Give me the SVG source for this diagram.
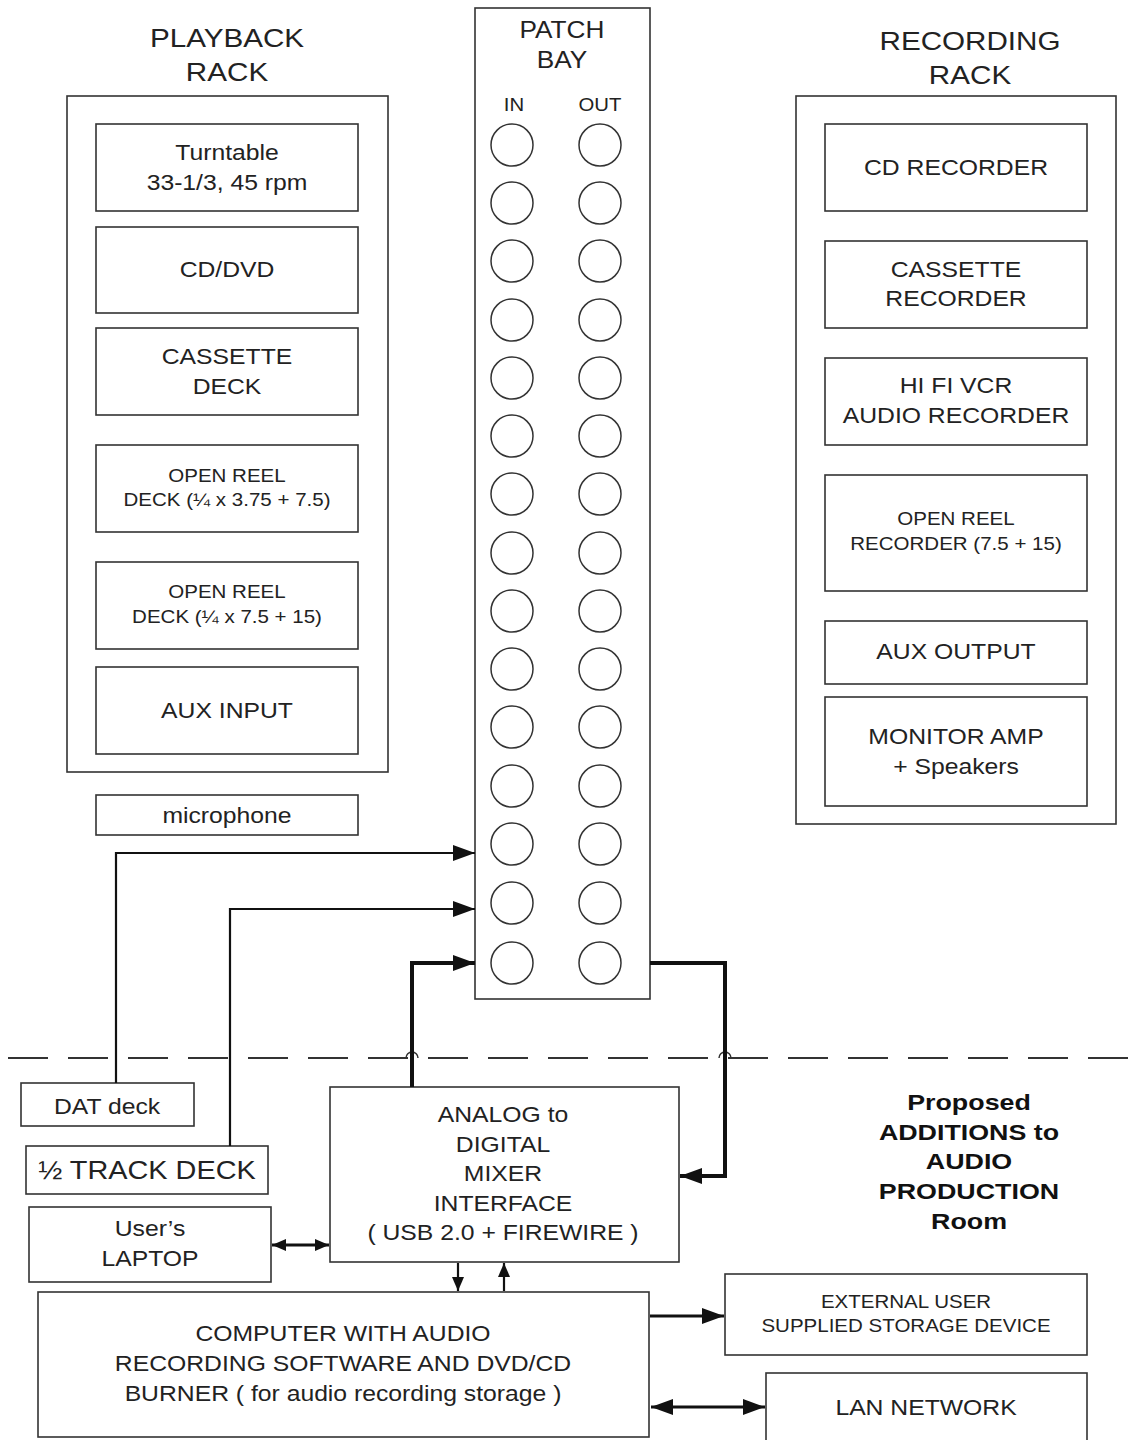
<svg xmlns="http://www.w3.org/2000/svg" width="1146" height="1440" viewBox="0 0 1146 1440">
<defs>
<style>
text{font-family:"Liberation Sans",Arial,sans-serif;fill:#222;text-anchor:middle}
.t{font-size:26px}
.b{font-size:21.5px}
.s{font-size:18px}
.bold{font-size:22px;font-weight:bold;fill:#111}
.box{fill:#fff;stroke:#333;stroke-width:1.6}
.jack{fill:#fff;stroke:#333;stroke-width:1.5}
.w1{fill:none;stroke:#111;stroke-width:2.2}
.w2{fill:none;stroke:#111;stroke-width:4}
.w3{fill:none;stroke:#111;stroke-width:3.2}
.dash{fill:none;stroke:#333;stroke-width:2;stroke-dasharray:40 20}
.hop{fill:none;stroke:#333;stroke-width:1.5}
</style>
<marker id="ah" viewBox="0 0 10 10" refX="10" refY="5" markerWidth="22" markerHeight="16" markerUnits="userSpaceOnUse" orient="auto-start-reverse" preserveAspectRatio="none"><path d="M0,0 L10,5 L0,10 Z" fill="#111"/></marker>
<marker id="ahs" viewBox="0 0 10 10" refX="10" refY="5" markerWidth="14" markerHeight="12" markerUnits="userSpaceOnUse" orient="auto-start-reverse" preserveAspectRatio="none"><path d="M0,0 L10,5 L0,10 Z" fill="#111"/></marker>
</defs>
<rect width="1146" height="1440" fill="#fff"/>

<line class="dash" x1="8" y1="1058" x2="1146" y2="1058"/>
<path class="hop" d="M406,1058 A6,6 0 0 1 418,1058"/>
<path class="hop" d="M719,1058 A6,6 0 0 1 731,1058"/>

<g id="playback-rack">
<g transform="translate(227 0) scale(1.14 1)"><text class="t" x="0" y="47">PLAYBACK</text><text class="t" x="0" y="81">RACK</text></g>
<rect class="box" x="67" y="96" width="321" height="676"/>
</g>
<g id="turntable"><rect class="box" x="96" y="124" width="262" height="87"/><g transform="translate(227 0) scale(1.15 1)"><text class="b" x="0" y="160">Turntable</text><text class="b" x="0" y="190">33-1/3, 45 rpm</text></g></g>
<g id="cd-dvd"><rect class="box" x="96" y="227" width="262" height="86"/><g transform="translate(227 0) scale(1.15 1)"><text class="b" x="0" y="277">CD/DVD</text></g></g>
<g id="cassette-deck"><rect class="box" x="96" y="328" width="262" height="87"/><g transform="translate(227 0) scale(1.15 1)"><text class="b" x="0" y="364">CASSETTE</text><text class="b" x="0" y="394">DECK</text></g></g>
<g id="open-reel-1"><rect class="box" x="96" y="445" width="262" height="87"/><g transform="translate(227 0) scale(1.14 1)"><text class="s" x="0" y="482">OPEN REEL</text><text class="s" x="0" y="506">DECK  (¼ x 3.75 + 7.5)</text></g></g>
<g id="open-reel-2"><rect class="box" x="96" y="562" width="262" height="87"/><g transform="translate(227 0) scale(1.14 1)"><text class="s" x="0" y="598">OPEN REEL</text><text class="s" x="0" y="623">DECK (¼ x 7.5 + 15)</text></g></g>
<g id="aux-input"><rect class="box" x="96" y="667" width="262" height="87"/><g transform="translate(227 0) scale(1.15 1)"><text class="b" x="0" y="718">AUX INPUT</text></g></g>
<g id="microphone"><rect class="box" x="96" y="795" width="262" height="40"/><g transform="translate(227 0) scale(1.15 1)"><text class="b" x="0" y="823">microphone</text></g></g>

<g id="patch-bay">
<rect class="box" x="475" y="8" width="175" height="991"/>
<g transform="translate(562 0) scale(1.14 1)"><text x="0" y="38" style="font-size:23px">PATCH</text><text x="0" y="68" style="font-size:23px">BAY</text></g>
<g transform="translate(514 0) scale(1.13 1)"><text class="s" x="0" y="111">IN</text></g>
<g transform="translate(600 0) scale(1.13 1)"><text class="s" x="0" y="111">OUT</text></g>
<g class="jack">
<circle cx="512" cy="145" r="21"/><circle cx="600" cy="145" r="21"/>
<circle cx="512" cy="203" r="21"/><circle cx="600" cy="203" r="21"/>
<circle cx="512" cy="261" r="21"/><circle cx="600" cy="261" r="21"/>
<circle cx="512" cy="320" r="21"/><circle cx="600" cy="320" r="21"/>
<circle cx="512" cy="378" r="21"/><circle cx="600" cy="378" r="21"/>
<circle cx="512" cy="436" r="21"/><circle cx="600" cy="436" r="21"/>
<circle cx="512" cy="494" r="21"/><circle cx="600" cy="494" r="21"/>
<circle cx="512" cy="553" r="21"/><circle cx="600" cy="553" r="21"/>
<circle cx="512" cy="611" r="21"/><circle cx="600" cy="611" r="21"/>
<circle cx="512" cy="669" r="21"/><circle cx="600" cy="669" r="21"/>
<circle cx="512" cy="727" r="21"/><circle cx="600" cy="727" r="21"/>
<circle cx="512" cy="786" r="21"/><circle cx="600" cy="786" r="21"/>
<circle cx="512" cy="844" r="21"/><circle cx="600" cy="844" r="21"/>
<circle cx="512" cy="903" r="21"/><circle cx="600" cy="903" r="21"/>
<circle cx="512" cy="963" r="21"/><circle cx="600" cy="963" r="21"/>
</g>
</g>

<g id="recording-rack">
<g transform="translate(970 0) scale(1.14 1)"><text class="t" x="0" y="50">RECORDING</text><text class="t" x="0" y="84">RACK</text></g>
<rect class="box" x="796" y="96" width="320" height="728"/>
</g>
<g id="cd-recorder"><rect class="box" x="825" y="124" width="262" height="87"/><g transform="translate(956 0) scale(1.15 1)"><text class="b" x="0" y="175">CD RECORDER</text></g></g>
<g id="cassette-recorder"><rect class="box" x="825" y="241" width="262" height="87"/><g transform="translate(956 0) scale(1.15 1)"><text class="b" x="0" y="277">CASSETTE</text><text class="b" x="0" y="306">RECORDER</text></g></g>
<g id="hifi-vcr"><rect class="box" x="825" y="358" width="262" height="87"/><g transform="translate(956 0) scale(1.15 1)"><text class="b" x="0" y="393">HI FI VCR</text><text class="b" x="0" y="423">AUDIO RECORDER</text></g></g>
<g id="open-reel-recorder"><rect class="box" x="825" y="475" width="262" height="116"/><g transform="translate(956 0) scale(1.14 1)"><text class="s" x="0" y="525">OPEN REEL</text><text class="s" x="0" y="550">RECORDER (7.5 + 15)</text></g></g>
<g id="aux-output"><rect class="box" x="825" y="621" width="262" height="63"/><g transform="translate(956 0) scale(1.15 1)"><text class="b" x="0" y="659">AUX OUTPUT</text></g></g>
<g id="monitor-amp"><rect class="box" x="825" y="697" width="262" height="109"/><g transform="translate(956 0) scale(1.15 1)"><text class="b" x="0" y="744">MONITOR AMP</text><text class="b" x="0" y="774">+ Speakers</text></g></g>

<g id="dat-deck"><rect class="box" x="21" y="1083" width="173" height="43"/><g transform="translate(107 0) scale(1.15 1)"><text class="b" x="0" y="1114">DAT deck</text></g></g>
<g id="half-track-deck"><rect class="box" x="26" y="1146" width="242" height="48"/><g transform="translate(147 0) scale(1.11 1)"><text x="0" y="1179" style="font-size:26px">½ TRACK DECK</text></g></g>
<g id="laptop"><rect class="box" x="29" y="1207" width="242" height="75"/><g transform="translate(150 0) scale(1.15 1)"><text class="b" x="0" y="1236">User’s</text><text class="b" x="0" y="1266">LAPTOP</text></g></g>
<g id="mixer"><rect class="box" x="330" y="1087" width="349" height="175"/>
<g transform="translate(503 0) scale(1.15 1)"><text class="b" x="0" y="1122">ANALOG to</text><text class="b" x="0" y="1152">DIGITAL</text><text class="b" x="0" y="1181">MIXER</text><text class="b" x="0" y="1211">INTERFACE</text><text class="b" x="0" y="1240">( USB 2.0 + FIREWIRE )</text></g></g>
<g id="computer"><rect class="box" x="38" y="1292" width="611" height="145"/>
<g transform="translate(343 0) scale(1.15 1)"><text class="b" x="0" y="1341">COMPUTER WITH AUDIO</text><text class="b" x="0" y="1371">RECORDING SOFTWARE AND DVD/CD</text><text class="b" x="0" y="1401">BURNER ( for audio recording storage )</text></g></g>
<g id="external-storage"><rect class="box" x="725" y="1274" width="362" height="81"/><g transform="translate(906 0) scale(1.14 1)"><text class="s" x="0" y="1308">EXTERNAL USER</text><text class="s" x="0" y="1332">SUPPLIED STORAGE DEVICE</text></g></g>
<g id="lan"><rect class="box" x="766" y="1373" width="321" height="80"/><g transform="translate(926 0) scale(1.15 1)"><text class="b" x="0" y="1415">LAN NETWORK</text></g></g>

<g id="note" transform="translate(969 0) scale(1.22 1)">
<text class="bold" x="0" y="1110">Proposed</text>
<text class="bold" x="0" y="1140">ADDITIONS to</text>
<text class="bold" x="0" y="1169">AUDIO</text>
<text class="bold" x="0" y="1199">PRODUCTION</text>
<text class="bold" x="0" y="1229">Room</text>
</g>

<g id="connectors">
<path class="w1" d="M116,1083 V853 H475" marker-end="url(#ah)"/>
<path class="w1" d="M230,1146 V909 H475" marker-end="url(#ah)"/>
<path class="w2" d="M412,1087 V963 H475" marker-end="url(#ah)"/>
<path class="w2" d="M650,963 H725 V1176 H680" marker-end="url(#ah)"/>
<path class="w3" d="M272,1245 H329" marker-start="url(#ahs)" marker-end="url(#ahs)"/>
<path class="w1" d="M458,1263 V1291" marker-end="url(#ahs)"/>
<path class="w1" d="M504,1291 V1263" marker-end="url(#ahs)"/>
<path class="w3" d="M650,1316 H724" marker-end="url(#ah)"/>
<path class="w3" d="M651,1407 H765" marker-start="url(#ah)" marker-end="url(#ah)"/>
</g>
</svg>
